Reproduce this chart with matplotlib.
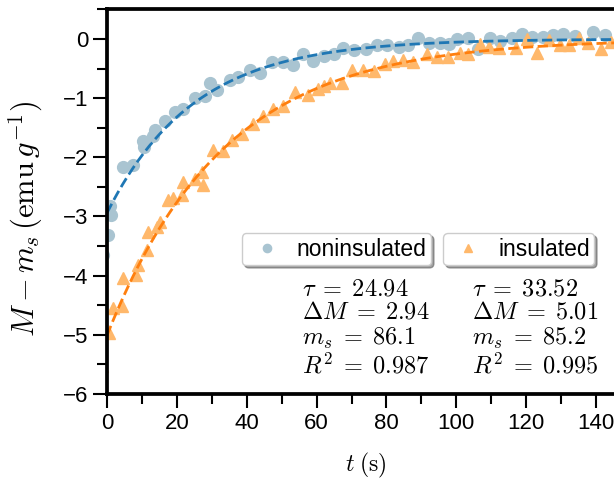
import numpy as np
import matplotlib
matplotlib.use("Agg")
import matplotlib.pyplot as plt

plt.rcParams["font.family"] = ["Liberation Sans", "DejaVu Sans"]
plt.rcParams["mathtext.fontset"] = "cm"

# Dados
t_non = [-1.2, 0.4, 0.9, 1.2, 4.7, 7.5, 10.2, 10.5, 13.1, 13.7, 16.6, 19.5, 21.8,
         25.2, 28.1, 29.5, 31.4, 35.2, 37.6, 40.9, 43.8, 47.1, 50.5, 53.3, 56.2,
         59.1, 62.2, 65.1, 67.7, 70.8, 74.0, 77.2, 80.1, 83.6, 86.3, 89.1, 92.2,
         95.4, 97.9, 100.3, 103.2, 106.3, 109.6, 112.5, 115.9, 118.9, 121.8,
         124.7, 127.8, 130.6, 134.0, 139.2, 142.6]
m_non = [-3.65, -3.31, -2.82, -2.97, -2.16, -2.13, -1.73, -1.82, -1.64, -1.54,
         -1.38, -1.23, -1.19, -1.00, -0.97, -0.74, -0.86, -0.69, -0.64, -0.52,
         -0.58, -0.39, -0.39, -0.44, -0.25, -0.38, -0.29, -0.25, -0.15, -0.19,
         -0.17, -0.10, -0.10, -0.13, -0.10, 0.01, -0.07, -0.07, -0.08, 0.00,
         0.02, -0.17, 0.01, -0.03, 0.01, 0.08, 0.03, 0.04, 0.07, 0.08, 0.05,
         0.11, 0.07]

t_ins = [-1.5, 0.5, 1.7, 4.3, 4.7, 8.3, 9.0, 11.4, 11.8, 14.2, 15.2, 17.5, 19.0,
         21.4, 21.8, 25.2, 27.1, 27.6, 30.4, 33.3, 35.9, 38.6, 41.9, 44.7, 47.6,
         50.5, 53.8, 57.6, 60.5, 62.0, 63.8, 67.2, 70.1, 73.4, 76.3, 79.6, 82.0,
         84.8, 87.7, 91.5, 94.6, 97.5, 101.0, 103.4, 106.8, 109.4, 112.2, 117.0,
         120.3, 123.0, 126.5, 129.7, 132.3, 135.2, 137.8, 141.3, 144.3]
m_ins = [-5.52, -4.97, -4.54, -4.52, -4.04, -3.99, -3.82, -3.56, -3.26, -3.17,
         -3.09, -2.72, -2.69, -2.64, -2.41, -2.36, -2.24, -2.46, -1.88, -1.90,
         -1.71, -1.60, -1.44, -1.31, -1.19, -1.14, -0.89, -0.95, -0.85, -0.80,
         -0.75, -0.75, -0.53, -0.52, -0.54, -0.42, -0.38, -0.35, -0.39, -0.26,
         -0.31, -0.30, -0.24, -0.25, -0.08, -0.14, -0.15, -0.16, 0.00, -0.24,
         -0.02, -0.10, -0.10, 0.01, -0.07, -0.17, -0.05]

# Parâmetros do ajuste
tau_non, dM_non, ms_non, r2_non = 24.94, 2.94, 86.1, 0.987
tau_ins, dM_ins, ms_ins, r2_ins = 33.52, 5.01, 85.2, 0.995

C_NON = "#a9c4d1"
C_INS = "#ffb86b"

fig = plt.figure(figsize=(6.14, 4.79), dpi=100)
ax = fig.add_axes([107 / 614, 85 / 479, 517 / 614, 384.6 / 479])

p1, = ax.plot(t_non, m_non, "o", color=C_NON, ms=8.5, label="noninsulated")
p2, = ax.plot(t_ins, m_ins, "^", color=C_INS, ms=9, label="insulated")

tt = np.linspace(0, 150, 400)
ax.plot(tt, -dM_non * np.exp(-tt / tau_non), "--", color="#1f77b4", lw=2)
ax.plot(tt, -dM_ins * np.exp(-tt / tau_ins), "--", color="#ff7f0e", lw=2)

ax.set_xlim(0, 148)
ax.set_ylim(-6, 0.5)
ax.set_xticks(np.arange(0, 141, 20))
ax.set_xticks(np.arange(10, 148, 20), minor=True)
ax.set_yticks(np.arange(-6, 0.1, 1))
ax.set_yticks(np.arange(-5.5, 0.6, 1), minor=True)

for s in ax.spines.values():
    s.set_linewidth(2.7)
ax.tick_params(which="major", length=10, width=1.5, labelsize=16, direction="out")
ax.tick_params(which="minor", length=7, width=1.5, direction="out")

ax.set_xlabel(r"$t\;(\mathrm{s})$", fontsize=17, labelpad=12)
ax.set_ylabel(r"$M - m_s\,(\mathrm{emu}\,g^{-1})$", fontsize=22)
ax.yaxis.set_label_coords(-0.12, 0.456)

leg_kw = dict(loc="upper left", bbox_transform=fig.transFigure, borderaxespad=0,
              fontsize=16.5, shadow=True, fancybox=True, borderpad=0.2,
              handlelength=1.8, handletextpad=0.4, markerscale=0.7,
              framealpha=1, edgecolor="#cccccc")
leg1 = ax.legend(handles=[p1], bbox_to_anchor=(241.7 / 614, 1 - 233 / 479), **leg_kw)
ax.add_artist(leg1)
ax.legend(handles=[p2], bbox_to_anchor=(443 / 614, 1 - 233 / 479), **leg_kw)

eq = r"\;=\;"
txt_non = "\n".join([rf"$\tau{eq}{tau_non}$", rf"$\Delta M{eq}{dM_non}$",
                     rf"$m_s{eq}{ms_non}$", rf"$R^2{eq}{r2_non}$"])
txt_ins = "\n".join([rf"$\tau{eq}{tau_ins}$", rf"$\Delta M{eq}{dM_ins}$",
                     rf"$m_s{eq}{ms_ins}$", rf"$R^2{eq}{r2_ins}$"])
fig.text(302 / 614, 1 - 278 / 479, txt_non, fontsize=17.5, va="top", ha="left",
         linespacing=1.1)
fig.text(472 / 614, 1 - 278 / 479, txt_ins, fontsize=17.5, va="top", ha="left",
         linespacing=1.1)

plt.savefig("out.png", dpi=100)
plt.close()
